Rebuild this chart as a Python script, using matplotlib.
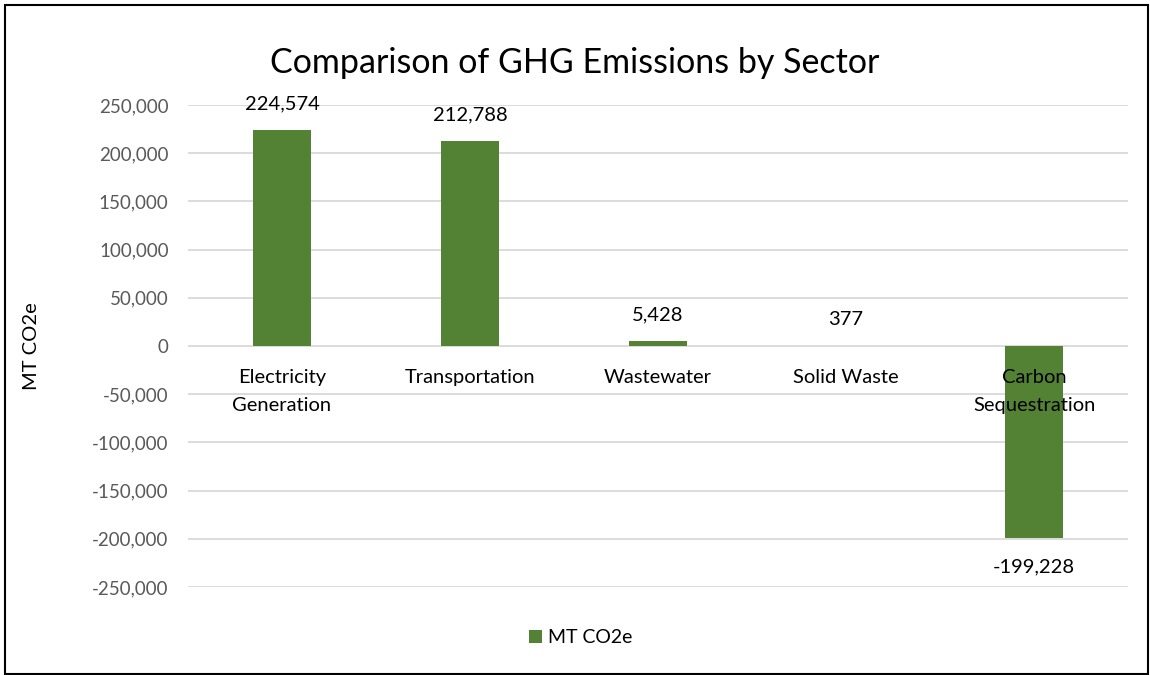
import numpy as np
import matplotlib
matplotlib.use('Agg')
import matplotlib.pyplot as plt
from matplotlib.patches import Rectangle
from matplotlib.ticker import FuncFormatter

plt.rcParams['font.family'] = ['Lato', 'DejaVu Sans']

# dane
sectors = ["Electricity\nGeneration", "Transportation", "Wastewater",
           "Solid Waste", "Carbon\nSequestration"]
emissions = [224574, 212788, 5428, 377, -199228]
series_name = "MT CO2e"
yticks = [-250000, -200000, -150000, -100000, -50000, 0,
          50000, 100000, 150000, 200000, 250000]

bar_color = '#548235'
grid_color = '#d9d9d9'

fig = plt.figure(figsize=(11.5, 6.75), dpi=100)
ax = fig.add_axes([0.1635, 0.1304, 0.8175, 0.714])

x = np.arange(len(sectors))
bars = ax.bar(x, emissions, width=0.31, color=bar_color, zorder=2,
              label=series_name)

ax.set_xlim(-0.5, len(sectors) - 0.5)
ax.set_ylim(-250000, 250000)
ax.set_yticks(yticks)
ax.yaxis.set_major_formatter(FuncFormatter(lambda v, p: f"{int(v):,}"))
ax.tick_params(axis='y', length=0, pad=14, labelsize=13.5, labelcolor='#595959')
ax.set_xticks([])
ax.grid(axis='y', color=grid_color, linewidth=1.3, zorder=0)
for s in ax.spines.values():
    s.set_visible(False)

# etykiety kategorii przy linii zera
for i, name in enumerate(sectors):
    ax.annotate(name, (i, 0), xytext=(0, -23), textcoords='offset pixels',
                ha='center', va='top', fontsize=14.5, color='black',
                linespacing=1.75, zorder=3)

# etykiety wartosci
for i, v in enumerate(emissions):
    off = 26 if v >= 0 else -29
    ax.annotate(f"{v:,}", (i, v), xytext=(0, off), textcoords='offset pixels',
                ha='center', va='center', fontsize=14.5, color='black', zorder=3)

ax.set_ylabel(series_name, fontsize=14.5, color='black')
ax.yaxis.set_label_coords(-0.157, 0.5)

fig.suptitle("Comparison of GHG Emissions by Sector", fontsize=24.5, y=0.93)

fig.legend(handles=[bars], labels=[series_name], loc='center',
           bbox_to_anchor=(0.505, 0.055), frameon=False, fontsize=14,
           handlelength=0.7, handleheight=0.7, handletextpad=0.3)

# ramka
fig.patches.append(Rectangle((0.004, 0.002), 0.994, 0.99, transform=fig.transFigure,
                             fill=False, edgecolor='black', linewidth=1.5))

fig.savefig('out.png', dpi=100)
